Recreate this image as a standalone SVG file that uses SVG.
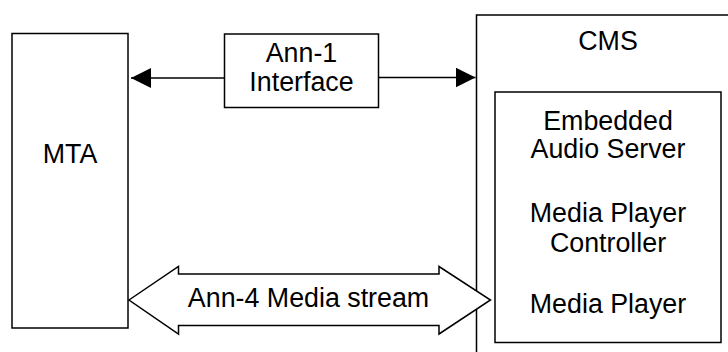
<svg xmlns="http://www.w3.org/2000/svg" width="728" height="352" viewBox="0 0 728 352">
  <style>
    .box { fill: #ffffff; stroke: #000000; stroke-width: 1.5; }
    .lbl { font-family: "Liberation Sans", Arial, sans-serif; font-size: 26.8px; fill: #000000; text-anchor: middle; }
    .link { fill: none; stroke: #000000; stroke-width: 1.5; }
  </style>
  <defs>
    <marker id="head" markerUnits="userSpaceOnUse" markerWidth="20" markerHeight="20" refX="20" refY="10" orient="auto-start-reverse">
      <path d="M0,0 L20,10 L0,20 Z" fill="#000000"/>
    </marker>
  </defs>
  <rect width="728" height="352" fill="#ffffff"/>

  <g id="mta">
    <rect class="box" x="12" y="33.5" width="116" height="294.5"/>
    <text class="lbl" x="70" y="163">MTA</text>
  </g>

  <g id="cms">
    <rect class="box" x="476.5" y="15" width="300" height="400"/>
    <text class="lbl" x="608" y="50">CMS</text>
  </g>

  <g id="cms-components">
    <rect class="box" x="495" y="92" width="226" height="250.5"/>
    <text class="lbl" x="608" y="130">Embedded</text>
    <text class="lbl" x="608" y="158">Audio Server</text>
    <text class="lbl" x="608" y="221.5">Media Player</text>
    <text class="lbl" x="608" y="252">Controller</text>
    <text class="lbl" x="608" y="313">Media Player</text>
  </g>

  <g id="ann1">
    <rect class="box" x="224.5" y="34" width="154" height="73.5"/>
    <text class="lbl" x="301.5" y="61.5">Ann-1</text>
    <text class="lbl" x="301.5" y="91">Interface</text>
  </g>

  <g id="connectors">
    <line class="link" x1="131" y1="78" x2="224.5" y2="78" marker-start="url(#head)"/>
    <line class="link" x1="378.5" y1="77.5" x2="475.5" y2="77.5" marker-end="url(#head)"/>
    <g id="ann4">
      <path class="box" d="M129,300 L178.5,266.5 L178.5,274 L439,274 L439,266.5 L490.5,300 L439,334 L439,325.5 L178.5,325.5 L178.5,334 Z"/>
      <text class="lbl" x="308.5" y="307">Ann-4 Media stream</text>
    </g>
  </g>
</svg>
